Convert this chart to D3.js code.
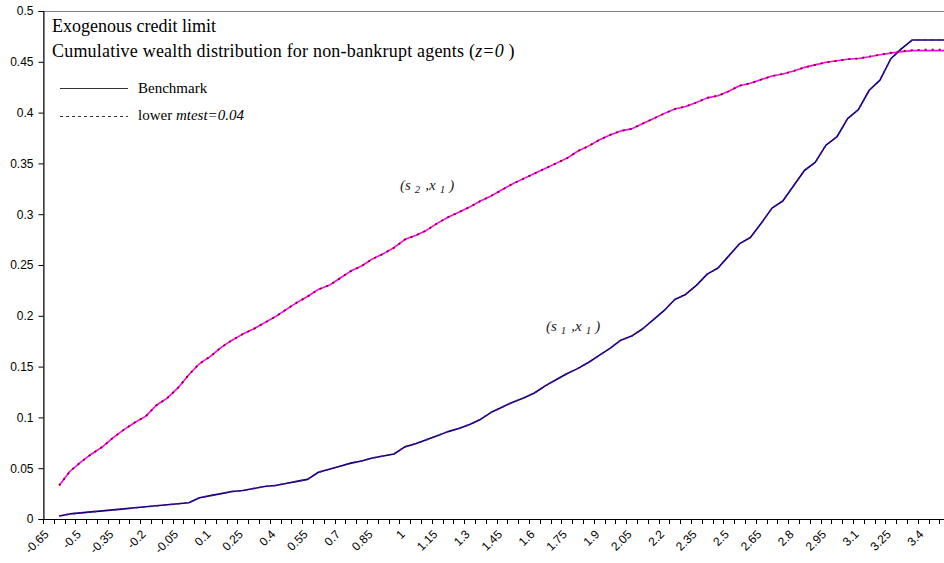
<!DOCTYPE html>
<html>
<head>
<meta charset="utf-8">
<script src="https://cdn.jsdelivr.net/npm/d3@7"></script>
<style>
  body { margin: 0; background: #fff; }
  svg { display: block; }
</style>
</head>
<body>
<svg id="chart"></svg>
<script>
// categories on the x axis (wealth grid)
var categories = ["-0.65","-0.6","-0.55","-0.5","-0.45","-0.4","-0.35","-0.3","-0.25","-0.2",
  "-0.15","-0.1","-0.05","0","0.05","0.1","0.15","0.2","0.25","0.3",
  "0.35","0.4","0.45","0.5","0.55","0.6","0.65","0.7","0.75","0.8",
  "0.85","0.9","0.95","1","1.05","1.1","1.15","1.2","1.25","1.3",
  "1.35","1.4","1.45","1.5","1.55","1.6","1.65","1.7","1.75","1.8",
  "1.85","1.9","1.95","2","2.05","2.1","2.15","2.2","2.25","2.3",
  "2.35","2.4","2.45","2.5","2.55","2.6","2.65","2.7","2.75","2.8",
  "2.85","2.9","2.95","3","3.05","3.1","3.15","3.2","3.25","3.3",
  "3.35","3.4","3.45","3.5"];

// shown x labels (every third category)
var xLabels = ["-0.65","-0.5","-0.35","-0.2","-0.05","0.1","0.25","0.4","0.55","0.7",
  "0.85","1","1.15","1.3","1.45","1.6","1.75","1.9","2.05","2.2",
  "2.35","2.5","2.65","2.8","2.95","3.1","3.25","3.4"];

var yTicks = [0, 0.05, 0.1, 0.15, 0.2, 0.25, 0.3, 0.35, 0.4, 0.45, 0.5];

// Benchmark (s1,x1)
var benchS1 = [null,0.003,0.005,0.006,0.007,0.008,0.009,0.010,0.011,0.012,
  0.013,0.014,0.015,0.016,0.021,0.023,0.025,0.027,0.028,0.030,
  0.032,0.033,0.035,0.037,0.039,0.046,0.049,0.052,0.055,0.057,
  0.060,0.062,0.064,0.071,0.074,0.078,0.082,0.086,0.089,0.093,
  0.098,0.105,0.110,0.115,0.119,0.124,0.131,0.137,0.143,0.148,
  0.154,0.161,0.168,0.176,0.180,0.187,0.196,0.205,0.216,0.221,
  0.230,0.241,0.247,0.259,0.271,0.277,0.291,0.306,0.313,0.328,
  0.343,0.351,0.368,0.376,0.394,0.403,0.422,0.432,0.453,0.463,
  0.4715,0.4715,0.4715,0.4715];

// Benchmark (s2,x1)
var benchS2 = [null,0.033,0.047,0.056,0.064,0.071,0.080,0.088,0.095,0.101,
  0.112,0.119,0.129,0.142,0.153,0.160,0.169,0.176,0.182,0.187,
  0.193,0.199,0.206,0.213,0.219,0.226,0.230,0.237,0.244,0.249,
  0.256,0.261,0.267,0.275,0.279,0.284,0.291,0.297,0.302,0.307,
  0.313,0.318,0.324,0.330,0.335,0.340,0.345,0.350,0.355,0.362,
  0.367,0.373,0.378,0.382,0.384,0.389,0.394,0.399,0.4035,0.406,
  0.410,0.4145,0.4166,0.421,0.4265,0.4288,0.4325,0.436,0.438,0.441,
  0.4445,0.447,0.4495,0.451,0.4525,0.4533,0.455,0.457,0.4585,0.460,
  0.461,0.461,0.461,0.461];

// lower mtest=0.04 (s1,x1)
var lowerS1 = [null,0.003,0.005,0.006,0.007,0.008,0.009,0.010,0.011,0.012,
  0.013,0.014,0.015,0.016,0.021,0.023,0.025,0.027,0.028,0.030,
  0.032,0.033,0.035,0.037,0.039,0.046,0.049,0.052,0.055,0.057,
  0.060,0.062,0.064,0.071,0.074,0.078,0.082,0.086,0.089,0.093,
  0.098,0.105,0.110,0.115,0.119,0.124,0.131,0.137,0.143,0.148,
  0.154,0.161,0.168,0.176,0.180,0.187,0.196,0.205,0.216,0.221,
  0.230,0.241,0.247,0.259,0.271,0.277,0.291,0.306,0.313,0.328,
  0.343,0.351,0.368,0.376,0.394,0.403,0.422,0.432,0.453,0.463,
  0.4715,0.4715,0.4715,0.4715];

// lower mtest=0.04 (s2,x1)
var lowerS2 = [null,0.033,0.047,0.056,0.064,0.071,0.080,0.088,0.095,0.101,
  0.112,0.119,0.129,0.142,0.153,0.160,0.169,0.176,0.182,0.187,
  0.193,0.199,0.206,0.213,0.219,0.226,0.230,0.237,0.244,0.249,
  0.256,0.261,0.267,0.275,0.279,0.284,0.291,0.297,0.302,0.307,
  0.313,0.318,0.324,0.330,0.335,0.340,0.345,0.350,0.355,0.362,
  0.367,0.373,0.378,0.382,0.384,0.389,0.394,0.399,0.4035,0.406,
  0.410,0.4145,0.4166,0.421,0.4265,0.4288,0.4325,0.436,0.438,0.441,
  0.4445,0.447,0.4495,0.451,0.4525,0.4533,0.455,0.457,0.459,0.4605,
  0.4615,0.462,0.462,0.462];

var svgWidth = 944, svgHeight = 563;
var plotLeft = 43, plotTop = 11, plotBottom = 519;
var catWidth = 10.8;
var plotRight = plotLeft + categories.length * catWidth;

var svg = d3.select("#chart")
    .attr("width", svgWidth)
    .attr("height", svgHeight);

var xScale = d3.scaleBand()
    .domain(categories)
    .range([plotLeft, plotRight])
    .padding(0);

var yScale = d3.scaleLinear()
    .domain([0, 0.5])
    .range([plotBottom, plotTop]);

var cx = function(c){ return xScale(c) + xScale.bandwidth() / 2; };

// plot area border
svg.append("rect")
    .attr("x", plotLeft + 0.5)
    .attr("y", plotTop + 0.5)
    .attr("width", plotRight - plotLeft)
    .attr("height", plotBottom - plotTop)
    .style("fill", "none")
    .style("stroke", "#808080")
    .style("stroke-width", "1px");

// y axis
var yAxis = svg.append("g")
    .attr("class", "yAxis")
    .attr("transform", "translate(" + (plotLeft + 0.5) + ",0)")
    .call(d3.axisLeft(yScale)
        .tickValues(yTicks)
        .tickSize(5)
        .tickPadding(5)
        .tickFormat(function(d){ return String(d); }));
yAxis.select(".domain").attr("stroke", "#000");
yAxis.selectAll(".tick line").attr("stroke", "#000");
yAxis.selectAll(".tick text")
    .attr("fill", "#000")
    .style("font-family", "'Liberation Sans', Arial, sans-serif")
    .style("font-size", "12px");

// x axis: line, ticks at category boundaries, rotated labels
var xAxis = svg.append("g").attr("class", "xAxis");
xAxis.append("line")
    .attr("x1", plotLeft).attr("x2", plotRight)
    .attr("y1", plotBottom + 0.5).attr("y2", plotBottom + 0.5)
    .attr("stroke", "#000");
xAxis.selectAll(".xtick")
    .data(categories)
    .enter()
    .append("line")
    .attr("class", "xtick")
    .attr("x1", function(d){ return Math.round(xScale(d)) + 0.5; })
    .attr("x2", function(d){ return Math.round(xScale(d)) + 0.5; })
    .attr("y1", plotBottom)
    .attr("y2", plotBottom + 5)
    .attr("stroke", "#000");
xAxis.selectAll(".xlabel")
    .data(xLabels)
    .enter()
    .append("text")
    .attr("class", "xlabel")
    .attr("transform", function(d){ return "translate(" + (cx(d) - 2) + "," + (plotBottom + 13) + ") rotate(-45)"; })
    .attr("text-anchor", "end")
    .attr("dy", "0.35em")
    .style("font-family", "'Liberation Sans', Arial, sans-serif")
    .style("font-size", "12px")
    .attr("fill", "#000")
    .text(function(d){ return d; });

// series lines
var lineGen = function(values){
    return d3.line()
        .defined(function(d, i){ return values[i] != null; })
        .x(function(d, i){ return cx(categories[i]); })
        .y(function(d, i){ return yScale(values[i]); })(categories);
};

var series = [
    { values: benchS1, color: "#000080", dash: null, width: 1.6 },
    { values: benchS2, color: "#FF00FF", dash: null, width: 1.6 },
    { values: lowerS1, color: "#800080", dash: "2,5", width: 1.6 },
    { values: lowerS2, color: "#800000", dash: "2,5", width: 1.8 }
];

var plot = svg.append("g").attr("class", "lines");
series.forEach(function(s){
    plot.append("path")
        .attr("d", lineGen(s.values))
        .attr("fill", "none")
        .attr("stroke", s.color)
        .attr("stroke-width", s.width)
        .attr("stroke-dasharray", s.dash)
        .attr("stroke-linejoin", "round");
});

// titles
var serif = "'Liberation Serif', 'Times New Roman', serif";
svg.append("text")
    .attr("x", 52).attr("y", 32)
    .style("font-family", serif)
    .style("font-size", "18px")
    .text("Exogenous credit limit");

var t2 = svg.append("text")
    .attr("x", 52).attr("y", 57)
    .style("font-family", serif)
    .style("font-size", "18px")
    .style("letter-spacing", "0.2px");
t2.append("tspan").text("Cumulative wealth distribution for non-bankrupt agents (");
t2.append("tspan").style("font-style", "italic").text("z=0");
t2.append("tspan").text(" )");

// legend
var legend = svg.append("g").attr("class", "legend");
legend.append("line")
    .attr("x1", 60).attr("x2", 128)
    .attr("y1", 88.5).attr("y2", 88.5)
    .attr("stroke", "#333")
    .attr("stroke-width", 1);
legend.append("line")
    .attr("x1", 60).attr("x2", 128)
    .attr("y1", 116.5).attr("y2", 116.5)
    .attr("stroke", "#333")
    .attr("stroke-width", 1)
    .attr("stroke-dasharray", "3,3");
legend.append("text")
    .attr("x", 138).attr("y", 93)
    .style("font-family", serif)
    .style("font-size", "15px")
    .text("Benchmark");
var l2 = legend.append("text")
    .attr("x", 138).attr("y", 120)
    .style("font-family", serif)
    .style("font-size", "15px");
l2.append("tspan").text("lower ");
l2.append("tspan").style("font-style", "italic").text("mtest=0.04");

// curve annotations
var annotate = function(x, y, sub1){
    var t = svg.append("text")
        .attr("x", x).attr("y", y)
        .style("font-family", serif)
        .style("font-style", "italic")
        .style("font-size", "15px")
        .attr("fill", "#222");
    t.append("tspan").text("(s");
    t.append("tspan").attr("dx", 4).attr("dy", 3).style("font-size", "11px").text(sub1);
    t.append("tspan").attr("dx", 5).attr("dy", -3).text(",x");
    t.append("tspan").attr("dx", 4).attr("dy", 3).style("font-size", "11px").text("1");
    t.append("tspan").attr("dx", 4).attr("dy", -3).text(")");
};
annotate(400, 190, "2");
annotate(546, 331, "1");
</script>
</body>
</html>
